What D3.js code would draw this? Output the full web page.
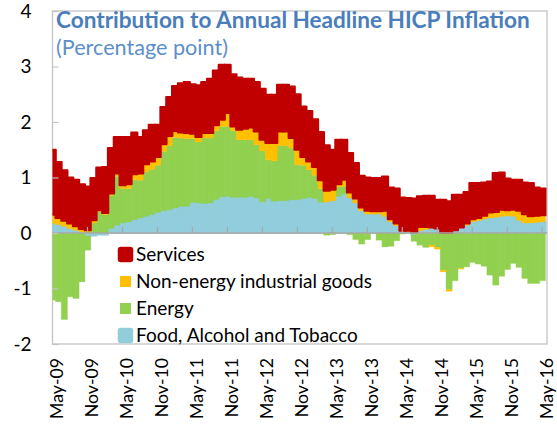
<!DOCTYPE html>
<html><head><meta charset="utf-8">
<script src="https://cdn.jsdelivr.net/npm/d3@7"></script>
<style>body{margin:0;background:#fff}</style>
</head><body>
<svg id="c" width="557" height="424"></svg>
<script>
const months = [
"May-09","Jun-09","Jul-09","Aug-09","Sep-09","Oct-09","Nov-09","Dec-09",
"Jan-10","Feb-10","Mar-10","Apr-10","May-10","Jun-10","Jul-10","Aug-10","Sep-10","Oct-10","Nov-10","Dec-10",
"Jan-11","Feb-11","Mar-11","Apr-11","May-11","Jun-11","Jul-11","Aug-11","Sep-11","Oct-11","Nov-11","Dec-11",
"Jan-12","Feb-12","Mar-12","Apr-12","May-12","Jun-12","Jul-12","Aug-12","Sep-12","Oct-12","Nov-12","Dec-12",
"Jan-13","Feb-13","Mar-13","Apr-13","May-13","Jun-13","Jul-13","Aug-13","Sep-13","Oct-13","Nov-13","Dec-13",
"Jan-14","Feb-14","Mar-14","Apr-14","May-14","Jun-14","Jul-14","Aug-14","Sep-14","Oct-14","Nov-14","Dec-14",
"Jan-15","Feb-15","Mar-15","Apr-15","May-15","Jun-15","Jul-15","Aug-15","Sep-15","Oct-15","Nov-15","Dec-15",
"Jan-16","Feb-16","Mar-16","Apr-16","May-16"];
const tickLabels = ["May-09","Nov-09","May-10","Nov-10","May-11","Nov-11","May-12","Nov-12","May-13","Nov-13","May-14","Nov-14","May-15","Nov-15","May-16"];
const yTicks = [-2,-1,0,1,2,3,4];

const food = [0.17,0.15,0.12,0.08,0.05,0.02,-0.05,-0.05,-0.03,-0.03,
 0.08,0.14,0.18,0.20,0.24,0.27,0.30,0.33,0.37,0.40,
 0.42,0.45,0.48,0.48,0.55,0.54,0.53,0.54,0.60,0.65,
 0.66,0.64,0.64,0.64,0.66,0.63,0.56,0.62,0.57,0.58,
 0.58,0.60,0.60,0.62,0.64,0.62,0.55,0.56,0.58,0.66,
 0.70,0.63,0.54,0.40,0.34,0.34,0.34,0.30,0.20,0.13,
 0.03,0.02,-0.03,0.04,0.06,0.10,0.08,0.00,-0.02,0.05,
 0.10,0.14,0.20,0.22,0.25,0.27,0.28,0.30,0.31,0.30,
 0.23,0.18,0.18,0.19,0.20];
const energy = [-1.21,-1.24,-1.56,-1.15,-1.18,-0.88,-0.26,0.18,0.38,0.33,
 0.60,0.88,0.62,0.60,0.72,0.68,0.80,0.82,0.85,1.07,
 1.15,1.27,1.23,1.22,1.15,1.10,1.18,1.17,1.24,1.27,
 1.26,1.20,1.04,1.04,1.02,0.96,0.92,0.70,0.73,0.99,
 0.99,0.93,0.63,0.60,0.50,0.42,0.25,-0.04,-0.03,0.17,
 0.14,-0.03,-0.12,-0.20,-0.12,0.00,-0.13,-0.25,-0.24,-0.14,
 -0.02,0.01,-0.12,-0.22,-0.26,-0.22,-0.26,-0.67,-1.00,-0.86,
 -0.64,-0.61,-0.53,-0.56,-0.60,-0.76,-0.94,-0.78,-0.66,-0.55,
 -0.62,-0.82,-0.91,-0.91,-0.86];
const neig = [0.16,0.12,0.10,0.09,0.07,0.05,0.05,0.05,0.03,0.03,
 0.03,0.05,0.06,0.08,0.10,0.12,0.14,0.14,0.15,0.13,
 0.18,0.12,0.10,0.10,0.09,0.09,0.09,0.09,0.10,0.12,
 0.24,0.08,0.18,0.20,0.22,0.24,0.20,0.30,0.32,0.26,
 0.26,0.18,0.27,0.15,0.15,0.15,0.15,0.20,0.20,0.05,
 0.12,0.10,0.08,0.06,0.06,0.05,0.05,0.10,0.05,0.04,
 0.01,0.01,0.01,0.07,0.05,-0.03,-0.03,-0.03,-0.03,0.00,
 -0.01,0.03,0.05,0.05,0.06,0.10,0.10,0.12,0.10,0.12,
 0.17,0.16,0.12,0.12,0.12];
const services = [1.17,1.01,0.91,0.83,0.84,0.81,0.79,0.76,0.77,0.83,
 0.82,0.66,0.87,0.85,0.75,0.66,0.61,0.66,0.58,0.67,
 0.70,0.81,0.89,0.92,0.89,0.93,0.92,0.98,0.99,0.99,
 0.87,0.94,0.94,0.90,0.88,0.89,0.92,0.87,0.87,0.84,
 0.84,0.93,1.00,0.91,0.91,0.86,0.87,0.82,0.72,0.80,
 0.72,0.71,0.64,0.57,0.60,0.60,0.60,0.62,0.57,0.63,
 0.60,0.59,0.61,0.55,0.56,0.57,0.52,0.60,0.57,0.64,
 0.59,0.57,0.65,0.63,0.60,0.56,0.70,0.67,0.57,0.54,
 0.56,0.57,0.60,0.51,0.48];

const seriesKeys = ["food","energy","neig","services"];
const seriesNames = {food:"Food, Alcohol and Tobacco", energy:"Energy", neig:"Non-energy industrial goods", services:"Services"};
const colors = {food:"#92CDDC", energy:"#92D050", neig:"#FFC000", services:"#C00000"};
const titleText = "Contribution to Annual Headline HICP Inflation";
const subtitleText = "(Percentage point)";

const svg = d3.select("#c");
const FONT = "Lato, 'Open Sans', sans-serif";
function fit(text, weight, target){
  const t = svg.append("text").attr("font-family",FONT).attr("font-weight",weight).attr("font-size",100).text(text);
  const w = t.node().getComputedTextLength(); t.remove(); return 100*target/w;
}

const plotL = 52.5, plotR = 547, plotT = 11, plotB = 344;
// categories sit on the tick marks: first centre on the left frame edge
const x = d3.scalePoint().domain(months).range([52.5, 542.2]);
const step = x.step();
const y = d3.scaleLinear().domain([-2,4]).range([plotB, plotT]);

const table = months.map((m,i)=>({month:m, food:food[i], energy:energy[i], neig:neig[i], services:services[i]}));
const stacked = d3.stack().keys(seriesKeys).offset(d3.stackOffsetDiverging)(table);

svg.append("defs").append("clipPath").attr("id","clip")
  .append("rect").attr("x",plotL).attr("y",plotT-2).attr("width",plotR-plotL).attr("height",plotB-plotT+4);

// frame
svg.append("rect").attr("x",plotL).attr("y",plotT).attr("width",plotR-plotL).attr("height",plotB-plotT)
  .attr("fill","none").attr("stroke","#c4c4c4").attr("stroke-width",1.3);

svg.append("g").attr("clip-path","url(#clip)").selectAll("g").data(stacked).join("g")
  .attr("fill", s=>colors[s.key])
  .attr("stroke", s=>colors[s.key])
  .attr("stroke-width", s=> s.key==="services" ? 2.0 : (s.key==="food" ? 1.6 : 0.3))
  .attr("stroke-linejoin","round")
  .selectAll("rect").data(s=>s).join("rect")
  .attr("x", d=>x(d.data.month)-step/2)
  .attr("width", step+0.4)
  .attr("y", d=>y(Math.max(d[0],d[1])))
  .attr("height", d=>Math.abs(y(d[0])-y(d[1])));

// zero line and category ticks
svg.append("line").attr("x1",plotL).attr("x2",plotR).attr("y1",y(0)).attr("y2",y(0))
  .attr("stroke","#a8a8a8").attr("stroke-width",1.5);
svg.append("g").selectAll("line").data(months.filter((m,i)=>i>0 && i%6===0)).join("line")
  .attr("x1",d=>x(d)).attr("x2",d=>x(d)).attr("y1",y(0)).attr("y2",y(0)-6)
  .attr("stroke","#a8a8a8").attr("stroke-width",1.2);

// y axis
const labSize = fit("Non-energy industrial goods", 400, 236);
const yAxis = svg.append("g").attr("transform",`translate(${plotL},0)`)
  .call(d3.axisLeft(y).tickValues(yTicks).tickSize(-6).tickPadding(21).tickFormat(d=>String(d)));
yAxis.select(".domain").remove();
yAxis.selectAll(".tick line").attr("stroke","#c4c4c4").attr("stroke-width",1.2);
yAxis.selectAll(".tick text").attr("font-family",FONT).attr("font-size",labSize).attr("fill","#000");

// x axis labels
const xSize = fit("May-09", 400, 61);
const xAxis = svg.append("g").attr("transform",`translate(4,${plotB})`)
  .call(d3.axisBottom(x).tickValues(tickLabels).tickSize(0));
xAxis.select(".domain").remove();
xAxis.selectAll(".tick text")
  .attr("font-family",FONT).attr("font-size",xSize).attr("fill","#000")
  .attr("transform","rotate(-90)").attr("x",-14).attr("y",0).attr("dy","0.35em")
  .style("text-anchor","end");

// titles
svg.append("text").attr("x",56).attr("y",28).attr("font-family",FONT).attr("font-weight",700)
  .attr("font-size",fit(titleText,700,474)).attr("fill","#4A7EBB").text(titleText);
svg.append("text").attr("x",56).attr("y",54.5).attr("font-family",FONT).attr("font-weight",400)
  .attr("font-size",fit(subtitleText,400,172)).attr("fill","#5B8FC9").text(subtitleText);

// legend
const legendKeys = ["services","neig","energy","food"];
const legendY = [254.5, 281.5, 308.5, 335.5];
const lg = svg.append("g");
legendKeys.forEach((k,i)=>{
  const big = (k==="services"||k==="food");
  const s = big ? 15.5 : 11;
  lg.append("rect").attr("x",125.5-s/2).attr("y",legendY[i]-s/2).attr("width",s).attr("height",s)
    .attr("rx", big?3:0).attr("fill",colors[k]);
  lg.append("text").attr("x",136).attr("y",legendY[i]).attr("dy","0.36em")
    .attr("font-family",FONT).attr("font-size",labSize).attr("fill","#000").text(seriesNames[k]);
});
</script>
</body></html>
